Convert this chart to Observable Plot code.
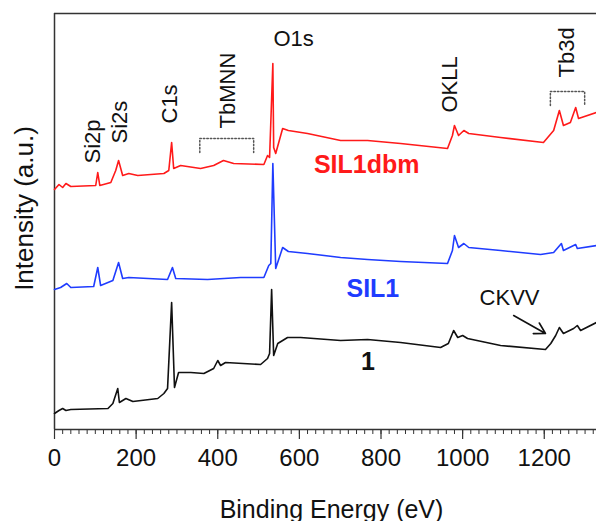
<!DOCTYPE html>
<html>
<head>
<meta charset="utf-8">
<script src="https://cdn.jsdelivr.net/npm/d3@7"></script>
<script src="https://cdn.jsdelivr.net/npm/@observablehq/plot@0.6"></script>
<style>
  html, body { margin: 0; padding: 0; background: #fff; overflow: hidden; }
  svg { display: block; }
</style>
</head>
<body>
<div id="chart"></div>
<script>
// ---- data ----
const seriesNames = ["1", "SIL1", "SIL1dbm"];
const seriesColors = ["#111111", "#1f3cff", "#ff1a1a"];

const energy1 = [0,11,20,28,40,131,143,155,159,175,192,253,268,277,287,294,304,334,366,390,400,407,419,505,522,527,532,537,547,571,603,701,767,848,946,965,978,988,1000,1012,1093,1203,1216,1228,1237,1247,1272,1281,1289,1328];
const counts1 = [16,19,21,19,20,21,26,41,27,31,28,31,36,41,127,42,57,57,56,61,69,64,67,65,71,76,140,74,86,92,92,89,90,87,82,86,99,92,94,91,84,80,86,94,102,96,101,104,99,107];

const energySIL1 = [0,15,30,40,96,106,113,131,143,157,167,182,277,289,297,375,456,513,525,530,535,542,559,573,620,701,767,848,963,975,980,990,1003,1015,1093,1191,1223,1242,1247,1277,1281,1328];
const countsSIL1 = [140,142,146,142,143,162,144,147,149,167,151,152,150,162,151,150,152,152,164,166,266,161,182,178,176,172,170,168,166,179,194,182,186,182,179,175,177,186,179,185,181,184];

const energySIL1dbm = [0,11,20,28,40,101,106,111,138,150,157,167,182,204,268,280,287,292,309,358,390,414,439,513,522,527,535,537,542,559,573,620,701,767,848,963,975,980,990,1003,1015,1093,1198,1223,1237,1247,1264,1277,1284,1328];
const countsSIL1dbm = [240,245,242,246,243,244,257,244,247,259,269,254,256,254,256,259,287,261,264,261,264,269,266,265,274,272,366,282,276,301,299,296,289,289,286,281,294,304,294,299,296,292,287,299,319,304,307,322,311,317];

const majorTicks = [0, 200, 400, 600, 800, 1000, 1200];
const minorTicks = d3.range(0, 1329, 20);

// peak annotations (rotated), energy and intensity at the foot of the label
const peakLabels = ["Si2p", "Si2s", "C1s", "TbMNN", "OKLL", "Tb3d"];
const peakLabelEnergy = [95, 160, 282, 426, 968, 1256];
const peakLabelBase = [266, 286, 306, 301, 317, 352];

// sample labels
const sampleLabels = ["SIL1dbm", "SIL1", "1"];
const sampleLabelEnergy = [765, 780, 768];
const sampleLabelLevel = [265, 141, 68];

// brackets [energyStart, energyEnd, top, leg]
const bracketStart = [356, 1215];
const bracketEnd = [488, 1299];
const bracketTop = [291, 338];
const bracketLeg = [277, 324];

// ---- build tables ----
const energies = [energy1, energySIL1, energySIL1dbm];
const counts = [counts1, countsSIL1, countsSIL1dbm];
const rows = [];
seriesNames.forEach((s, i) => energies[i].forEach((e, j) => rows.push({series: s, energy: e, counts: counts[i][j]})));

const peakRows = peakLabels.map((t, i) => ({text: t, x: peakLabelEnergy[i], y: peakLabelBase[i]}));
const sampleRows = sampleLabels.map((t, i) => ({text: t, x: sampleLabelEnergy[i], y: sampleLabelLevel[i], c: seriesColors[2 - i]}));
const bracketRows = [];
bracketStart.forEach((b, i) => {
  bracketRows.push({k: i, x: b, y: bracketLeg[i]});
  bracketRows.push({k: i, x: b, y: bracketTop[i]});
  bracketRows.push({k: i, x: bracketEnd[i], y: bracketTop[i]});
  bracketRows.push({k: i, x: bracketEnd[i], y: bracketLeg[i]});
});

const font = "'Liberation Sans', Arial, Helvetica, sans-serif";
const axisColor = "#333";

const chart = Plot.plot({
  width: 596,
  height: 521,
  marginTop: 13,
  marginBottom: 92,
  marginLeft: 54,
  marginRight: 0,
  style: {fontFamily: font, fontSize: "24px", background: "#fff", color: "#111", overflow: "visible"},
  x: {domain: [0, 1328]},
  y: {domain: [0, 416], axis: null},
  color: {domain: seriesNames, range: seriesColors},
  marks: [
    Plot.axisX({ticks: minorTicks, tickSize: 5, tickFormat: () => "", stroke: axisColor, strokeWidth: 1, label: null}),
    Plot.axisX({ticks: majorTicks, tickSize: 10, tickPadding: 9, tickFormat: d => String(d), fontSize: 24, stroke: axisColor, strokeWidth: 1.2, label: null}),
    Plot.ruleY([0, 416], {stroke: axisColor, strokeWidth: 1.5}),
    Plot.ruleX([0], {y1: 0, y2: 416, stroke: axisColor, strokeWidth: 1.5}),
    Plot.line(rows, {x: "energy", y: "counts", z: "series", stroke: "series", strokeWidth: 1.6, strokeLinejoin: "round"}),
    Plot.line(bracketRows, {x: "x", y: "y", z: "k", stroke: "#555", strokeWidth: 1.5, strokeDasharray: "1.5,2"}),
    Plot.text(peakRows, {x: "x", y: "y", text: "text", rotate: -90, textAnchor: "start", lineAnchor: "middle", fontSize: 22, fill: "#111"}),
    Plot.text(["O1s"], {x: [586], y: [391], text: d => d, fontSize: 22, fill: "#111"}),
    Plot.text(["CKVV"], {x: [1115], y: [132], text: d => d, fontSize: 22, fill: "#111"}),
    Plot.arrow([{x1: 1125, y1: 114, x2: 1203, y2: 96}], {x1: "x1", y1: "y1", x2: "x2", y2: "y2", stroke: "#111", strokeWidth: 1.6, headLength: 12}),
    Plot.text(sampleRows, {x: "x", y: "y", text: "text", fill: "c", fontSize: 25, fontWeight: "bold"}),
    Plot.text(["Intensity (a.u.)"], {frameAnchor: "left", textAnchor: "middle", lineAnchor: "middle", rotate: -90, dx: -30, dy: -13, text: d => d, fontSize: 26, fill: "#111"}),
    Plot.text(["Binding Energy (eV)"], {frameAnchor: "bottom", textAnchor: "middle", lineAnchor: "middle", dx: 6, dy: 80, text: d => d, fontSize: 25, fill: "#111"})
  ]
});
document.getElementById("chart").appendChild(chart);
</script>
</body>
</html>
